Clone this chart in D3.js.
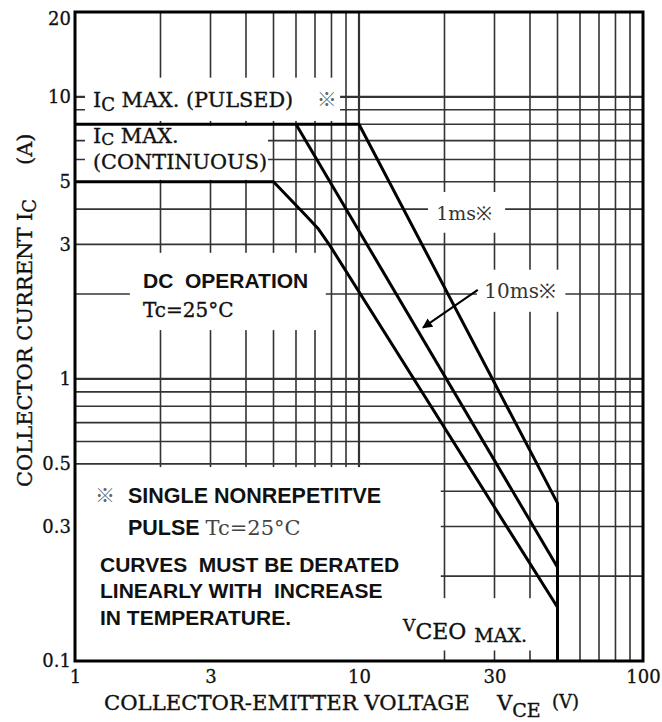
<!DOCTYPE html>
<html>
<head>
<meta charset="utf-8">
<script src="https://cdn.jsdelivr.net/npm/d3@7"></script>
<style>
    body { margin: 0; background: #fff; }
    text { fill: #111; }
    .serif { font-family: "DejaVu Serif", serif; stroke: #111; stroke-width: 0.35px; }
    .sans { font-family: "Liberation Sans", Arial, sans-serif; font-weight: bold; }
    .mark { font-family: "DejaVu Serif", "Noto Sans CJK JP", serif; fill: #666; }
</style>
</head>
<body>
<div id="soa"></div>
<script>
// axis ranges and tick labels
var xDomain = [1, 100];
var yDomain = [0.1, 20];
var xTickLabels = [1, 3, 10, 30, 100];
var yTickLabels = [0.1, 0.3, 0.5, 1, 3, 5, 10, 20];
var xGrid = [2, 3, 4, 5, 6, 7, 8, 9, 10, 20, 30, 40, 50, 60, 70, 80, 90];
var yGrid = [0.2, 0.3, 0.4, 0.5, 0.6, 0.7, 0.8, 0.9, 1, 2, 3, 4, 5, 6, 7, 8, 9, 10];

// safe operating area curves (VCE in V, IC in A)
var dcVce = [1, 5, 6.5, 7.2, 7.9, 50];
var dcIc = [5, 5, 3.8, 3.4, 2.97, 0.155];
var ms10Vce = [6, 50];
var ms10Ic = [8, 0.215];
var ms1Vce = [1, 10, 50, 50];
var ms1Ic = [8, 8, 0.363, 0.1];

// set the dimensions and margins of the graph
var margin = { top: 12, right: 19, bottom: 61, left: 75 },
    width = 662 - margin.left - margin.right,
    height = 722 - margin.top - margin.bottom;

var x = d3.scaleLog().domain(xDomain).range([0, width]);
var y = d3.scaleLog().domain(yDomain).range([height, 0]);

var svg = d3
    .select("#soa")
    .append("svg")
    .attr("width", width + margin.left + margin.right)
    .attr("height", height + margin.top + margin.bottom);

var g = svg.append("g")
    .attr("transform", "translate(" + margin.left + "," + margin.top + ")");

// grid
g.selectAll(".vgrid")
    .data(xGrid)
    .enter()
    .append("line")
    .attr("x1", function (d) { return x(d); })
    .attr("x2", function (d) { return x(d); })
    .attr("y1", 0)
    .attr("y2", height)
    .attr("stroke", "#333")
    .attr("stroke-width", function (d) { return d == 10 ? 2.2 : 1.6; });

g.selectAll(".hgrid")
    .data(yGrid)
    .enter()
    .append("line")
    .attr("y1", function (d) { return y(d); })
    .attr("y2", function (d) { return y(d); })
    .attr("x1", 0)
    .attr("x2", width)
    .attr("stroke", "#333")
    .attr("stroke-width", function (d) { return (d == 1 || d == 10) ? 2.2 : 1.6; });

// white boxes behind the labels (VCE from, VCE to, IC from, IC to)
var blanks = [
    [1.084, 8.58, 8.22, 11.7],
    [1.084, 4.78, 5.08, 7.89],
    [1.56, 7.64, 1.49, 2.8],
    [17.5, 32.7, 3.3, 4.6],
    [26.0, 53.3, 1.73, 2.44],
    [14.3, 45.1, 0.109, 0.167],
    [1.0, 19.4, 0.1, 0.487]
];
g.selectAll(".blank")
    .data(blanks)
    .enter()
    .append("rect")
    .attr("x", function (d) { return x(d[0]); })
    .attr("width", function (d) { return x(d[1]) - x(d[0]); })
    .attr("y", function (d) { return y(d[3]); })
    .attr("height", function (d) { return y(d[2]) - y(d[3]); })
    .attr("fill", "#fff");

// curves
var line = d3.line()
    .x(function (d) { return x(d[0]); })
    .y(function (d) { return y(d[1]); });

[[dcVce, dcIc], [ms10Vce, ms10Ic], [ms1Vce, ms1Ic]].forEach(function (c) {
    g.append("path")
        .attr("d", line(d3.zip(c[0], c[1])))
        .attr("fill", "none")
        .attr("stroke", "#000")
        .attr("stroke-width", 3)
        .attr("stroke-linejoin", "round");
});

// frame
g.append("rect")
    .attr("width", width)
    .attr("height", height)
    .attr("fill", "none")
    .attr("stroke", "#000")
    .attr("stroke-width", 3);

// axes
var xAxis = g.append("g")
    .attr("transform", "translate(0," + height + ")")
    .call(d3.axisBottom(x).tickValues(xTickLabels).tickFormat(function (d) { return d; })
        .tickSize(0).tickPadding(9));
var yAxis = g.append("g")
    .call(d3.axisLeft(y).tickValues(yTickLabels).tickFormat(function (d) { return d; })
        .tickSize(0).tickPadding(4));
[xAxis, yAxis].forEach(function (a) {
    a.select(".domain").remove();
    a.selectAll("text")
        .attr("fill", "#111")
        .attr("stroke", "#111")
        .attr("stroke-width", 0.3)
        .style("font-family", "DejaVu Serif")
        .style("font-size", "18px");
});
yAxis.selectAll(".tick")
    .filter(function (d) { return d == 20; })
    .select("text")
    .attr("dy", "0.7em");

// annotation helper: position in data units
function at(v, i) { return "translate(" + x(v) + "," + y(i) + ")"; }

// Ic max labels
var pulsed = g.append("text").attr("class", "serif").attr("transform", at(1.157, 9.21))
    .style("font-size", "20.8px");
pulsed.append("tspan").text("I");
pulsed.append("tspan").attr("dy", 4).style("font-size", "18px").text("C");
pulsed.append("tspan").attr("dy", -4).text(" MAX. (PULSED)");
g.append("text").attr("class", "mark").attr("transform", at(7.1, 9.21))
    .style("font-size", "20px").text("※");

var cont = g.append("text").attr("class", "serif").attr("transform", at(1.157, 6.85))
    .style("font-size", "20.8px");
cont.append("tspan").text("I");
cont.append("tspan").attr("dy", 2).style("font-size", "17px").text("C");
cont.append("tspan").attr("dy", -2).text(" MAX.");
g.append("text").attr("class", "serif").attr("transform", at(1.157, 5.55))
    .style("font-size", "20.8px").text("(CONTINUOUS)");

// DC operation
g.append("text").attr("class", "sans").attr("transform", at(1.735, 2.1))
    .style("font-size", "21px").attr("xml:space", "preserve").text("DC  OPERATION");
g.append("text").attr("class", "serif").attr("transform", at(1.735, 1.66))
    .style("font-size", "20px").text("Tc=25°C");

// pulse widths
g.append("text").attr("class", "serif").attr("transform", at(18.7, 3.66))
    .style("font-size", "19px").style("fill", "#333").style("stroke", "none").text("1ms※");
g.append("text").attr("class", "serif").attr("transform", at(27.6, 1.94))
    .style("font-size", "20px").style("fill", "#333").style("stroke", "none").text("10ms※");

svg.append("defs").append("marker")
    .attr("id", "head")
    .attr("viewBox", "0 0 10 10")
    .attr("refX", 9)
    .attr("refY", 5)
    .attr("markerWidth", 6)
    .attr("markerHeight", 5)
    .attr("orient", "auto")
    .append("path")
    .attr("d", "M0,0L10,5L0,10Z")
    .attr("fill", "#000");

g.append("line")
    .attr("x1", x(26.2)).attr("y1", y(2.07))
    .attr("x2", x(16.8)).attr("y2", y(1.52))
    .attr("stroke", "#000")
    .attr("stroke-width", 2)
    .attr("marker-end", "url(#head)");

// Vceo max
var vceo = g.append("text").attr("class", "serif").attr("transform", at(14.3, 0.12));
vceo.append("tspan").attr("dy", -8).style("font-size", "17px").text("V");
vceo.append("tspan").attr("dy", 8).style("font-size", "22px").text("CEO");
vceo.append("tspan").attr("dx", 8).attr("dy", 3).style("font-size", "19px").text("MAX.");

// notes
g.append("text").attr("class", "mark").attr("transform", at(1.176, 0.363))
    .style("font-size", "20px").text("※");
g.append("text").attr("class", "sans").attr("transform", at(1.536, 0.363))
    .style("font-size", "21.5px").text("SINGLE NONREPETITVE");
var pulse = g.append("text").attr("transform", at(1.536, 0.28));
pulse.append("tspan").attr("class", "sans").style("font-size", "21.5px").text("PULSE ");
pulse.append("tspan").attr("class", "serif").style("font-size", "21px").style("fill", "#444")
    .style("stroke", "none").text("Tc=25°C");

var notes = [
    ["CURVES  MUST BE DERATED", 0.207],
    ["LINEARLY WITH  INCREASE", 0.167],
    ["IN TEMPERATURE.", 0.134]
];
g.selectAll(".note")
    .data(notes)
    .enter()
    .append("text")
    .attr("class", "sans")
    .attr("xml:space", "preserve")
    .attr("transform", function (d) { return at(1.225, d[1]); })
    .style("font-size", "21px")
    .text(function (d) { return d[0]; });

// X axis label
var xl = svg.append("text").attr("class", "serif")
    .attr("x", 104).attr("y", 710).style("font-size", "21.2px");
xl.append("tspan").text("COLLECTOR-EMITTER VOLTAGE");
xl.append("tspan").attr("x", 497).text("V");
xl.append("tspan").attr("dy", 7).style("font-size", "19px").text("CE");
xl.append("tspan").attr("x", 552).attr("dy", -9).style("font-size", "18px").text("(V)");

// Y axis label
var yl = svg.append("text").attr("class", "serif")
    .attr("transform", "translate(32,487) rotate(-90)")
    .style("font-size", "21px");
yl.append("tspan").text("COLLECTOR CURRENT");
yl.append("tspan").attr("x", 266).text("I");
yl.append("tspan").attr("dy", 4).style("font-size", "18px").text("C");
yl.append("tspan").attr("x", 322).attr("dy", -4).text("(A)");
</script>
</body>
</html>
